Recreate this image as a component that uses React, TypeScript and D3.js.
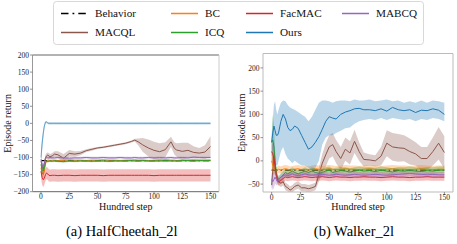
import * as d3 from 'd3';

// ---- data ----
const LX = [0, 1, 2, 3, 4, 5, 6, 7, 8, 10, 12, 15, 20, 25, 30, 35, 40, 45, 50, 55, 60, 65, 70, 75, 80, 83, 86, 90, 95, 100, 105, 110, 115, 118, 120, 125, 130, 135, 140, 145, 150];

const L_ours = [-100, -60, -30, -8, 3, 4, 1, 0, 0, 0, 0, 0, 0, 0, 0, 0, 0, 0, 0, 0, 0, 0, 0, 0, 0, 0, 0, 0, 0, 0, 0, 0, 0, 0, 0, 0, 0, 0, 0, 0, 0];
const L_ours_sd = [25, 20, 15, 8, 4, 3, 3, 3, 3, 3, 3, 3, 3, 3, 3, 3, 3, 3, 3, 3, 3, 3, 3, 3, 3, 3, 3, 3, 3, 3, 3, 3, 3, 3, 3, 3, 3, 3, 3, 3, 3];
const L_macql = [-110, -125, -135, -118, -100, -95, -93, -95, -98, -95, -90, -92, -102, -88, -90, -87, -80, -76, -72, -70, -67, -64, -61, -58, -53, -49, -54, -63, -72, -79, -83, -77, -54, -73, -78, -82, -79, -85, -87, -84, -68];
const L_macql_sd = [8, 10, 10, 8, 8, 8, 8, 8, 8, 8, 8, 10, 12, 10, 8, 6, 4, 4, 3, 3, 3, 3, 3, 3, 3, 4, 10, 20, 25, 25, 25, 22, 15, 18, 20, 25, 22, 18, 15, 20, 30];
const L_bc = [-130, -145, -150, -140, -118, -110, -108, -108, -109, -108, -108, -109, -108, -107, -108, -108, -109, -108, -108, -107, -108, -108, -109, -108, -108, -107, -108, -108, -109, -108, -108, -107, -108, -108, -109, -108, -108, -107, -108, -108, -108];
const L_bc_sd = [10, 10, 10, 8, 5, 3, 3, 3, 3, 3, 3, 3, 3, 3, 3, 3, 3, 3, 3, 3, 3, 3, 3, 3, 3, 3, 3, 3, 3, 3, 3, 3, 3, 3, 3, 3, 3, 3, 3, 3, 3];
const L_icq = [-120, -135, -140, -130, -115, -110, -112, -111, -110, -111, -110, -111, -112, -110, -111, -110, -110, -111, -110, -110, -111, -110, -110, -110, -109, -110, -110, -109, -110, -110, -110, -109, -110, -110, -110, -109, -109, -110, -109, -109, -109];
const L_icq_sd = [8, 10, 10, 8, 5, 3, 3, 3, 3, 3, 3, 3, 3, 3, 3, 3, 3, 3, 3, 3, 3, 3, 3, 3, 3, 3, 3, 3, 3, 3, 3, 3, 3, 3, 3, 3, 3, 3, 3, 3, 3];
const L_facmac = [-140, -158, -165, -160, -150, -145, -148, -152, -153, -152, -152, -153, -152, -152, -153, -152, -152, -152, -152, -153, -152, -152, -152, -152, -152, -152, -152, -152, -152, -153, -152, -152, -152, -152, -152, -152, -152, -152, -152, -152, -152];
const L_facmac_sd = [20, 22, 22, 20, 18, 18, 18, 18, 18, 18, 18, 18, 18, 18, 18, 18, 18, 18, 18, 18, 18, 18, 18, 18, 18, 18, 18, 18, 18, 18, 18, 18, 18, 18, 18, 18, 18, 18, 18, 18, 18];
const L_mabcq = [-105, -120, -128, -115, -103, -100, -101, -101, -100, -101, -101, -100, -101, -102, -101, -101, -100, -101, -101, -100, -101, -101, -100, -101, -101, -100, -101, -101, -100, -101, -100, -101, -100, -101, -101, -100, -101, -99, -100, -100, -100];
const L_mabcq_sd = [8, 8, 8, 5, 3, 3, 3, 3, 3, 3, 3, 3, 3, 3, 3, 3, 3, 3, 3, 3, 3, 3, 3, 3, 3, 3, 3, 3, 3, 3, 3, 3, 3, 3, 3, 3, 3, 3, 3, 3, 3];
const BEH_X = [0, 150];
const L_beh = [-109, -109];

const RX = [0, 1, 2, 3, 4, 5, 6, 8, 10, 12, 14, 16, 18, 20, 23, 26, 29, 32, 35, 38, 41, 44, 47, 50, 53, 56, 60, 64, 68, 72, 76, 80, 85, 90, 95, 100, 105, 110, 115, 120, 125, 130, 135, 140, 145, 150];

const R_ours = [40, 60, 75, 65, 55, 55, 60, 85, 100, 90, 72, 65, 68, 75, 70, 55, 40, 25, 30, 40, 52, 68, 85, 95, 92, 90, 100, 105, 108, 112, 113, 110, 110, 108, 112, 107, 115, 110, 108, 110, 104, 109, 108, 112, 109, 100];
const R_ours_lo = [10, 20, 30, 5, -10, -10, 0, 20, 30, 15, 5, 0, -5, 0, -5, -10, -10, -15, -20, -15, 0, 35, 50, 55, 55, 60, 65, 70, 72, 80, 85, 88, 90, 88, 92, 88, 92, 90, 88, 90, 85, 90, 88, 92, 90, 85];
const R_ours_hi = [50, 90, 120, 128, 110, 100, 110, 125, 130, 128, 120, 115, 112, 110, 105, 100, 95, 85, 95, 110, 125, 130, 130, 128, 125, 128, 130, 130, 128, 132, 130, 130, 132, 128, 130, 132, 128, 130, 125, 128, 125, 130, 125, 130, 128, 125];
const R_macql = [-52, -20, 10, -10, -30, -40, -45, -48, -45, -55, -58, -63, -60, -55, -52, -58, -58, -60, -58, -55, -30, -5, 13, 30, 35, 20, 5, 25, 17, 42, 20, 3, 2, 0, 10, 38, 30, 28, 27, 20, 15, 5, 5, 20, 38, 18];
const R_macql_sd = [10, 30, 35, 20, 10, 8, 8, 8, 8, 8, 8, 8, 8, 8, 8, 8, 8, 8, 8, 8, 15, 20, 25, 25, 25, 25, 25, 25, 25, 25, 20, 15, 12, 12, 20, 28, 30, 30, 28, 28, 25, 25, 25, 30, 35, 35];
const R_icq = [40, 45, 30, 0, -25, -35, -40, -35, -30, -25, -28, -25, -22, -25, -28, -25, -22, -25, -22, -25, -27, -25, -22, -20, -25, -23, -21, -22, -24, -22, -20, -22, -21, -23, -20, -22, -24, -21, -22, -20, -22, -23, -21, -22, -20, -20];
const R_icq_sd = [15, 55, 50, 25, 12, 8, 8, 8, 8, 8, 8, 8, 8, 8, 8, 8, 8, 8, 8, 8, 8, 8, 8, 8, 8, 8, 8, 8, 8, 8, 8, 8, 8, 8, 8, 8, 8, 8, 8, 8, 8, 8, 8, 8, 8, 8];
const R_bc = [0, -10, -15, -20, -22, -20, -18, -20, -18, -17, -18, -20, -19, -18, -17, -19, -18, -20, -18, -17, -18, -19, -18, -17, -18, -19, -18, -17, -18, -18, -19, -18, -17, -18, -19, -18, -17, -18, -18, -19, -18, -17, -18, -19, -18, -18];
const R_bc_sd = [20, 18, 15, 10, 8, 8, 8, 8, 8, 8, 8, 8, 8, 8, 8, 8, 8, 8, 8, 8, 8, 8, 8, 8, 8, 8, 8, 8, 8, 8, 8, 8, 8, 8, 8, 8, 8, 8, 8, 8, 8, 8, 8, 8, 8, 8];
const R_facmac = [20, 15, 5, -10, -30, -40, -45, -42, -38, -35, -36, -35, -34, -35, -36, -35, -34, -35, -36, -35, -35, -34, -35, -36, -35, -34, -35, -35, -36, -35, -35, -34, -35, -35, -36, -35, -34, -35, -35, -36, -35, -35, -34, -35, -35, -35];
const R_facmac_sd = [20, 20, 18, 15, 10, 8, 8, 8, 8, 8, 8, 8, 8, 8, 8, 8, 8, 8, 8, 8, 8, 8, 8, 8, 8, 8, 8, 8, 8, 8, 8, 8, 8, 8, 8, 8, 8, 8, 8, 8, 8, 8, 8, 8, 8, 8];
const R_mabcq = [-40, -45, -40, -35, -40, -45, -40, -35, -32, -30, -32, -30, -28, -30, -32, -30, -28, -30, -31, -30, -30, -29, -30, -31, -30, -29, -30, -31, -30, -29, -30, -31, -30, -29, -30, -31, -30, -29, -28, -27, -28, -29, -30, -29, -30, -30];
const R_mabcq_sd = [15, 18, 18, 15, 12, 8, 6, 6, 6, 6, 6, 6, 6, 6, 6, 6, 6, 6, 6, 6, 6, 6, 6, 6, 6, 6, 6, 6, 6, 6, 6, 6, 6, 6, 6, 6, 6, 6, 6, 6, 6, 6, 6, 6, 6, 6];
const R_beh = [-20, -20];

const X_TICKS = [0, 25, 50, 75, 100, 125, 150];
const L_Y_TICKS = [-200, -150, -100, -50, 0, 50, 100, 150, 200];
const R_Y_TICKS = [-50, 0, 50, 100, 150, 200];

const COLORS: Record<string, string> = {
    Behavior: '#000000',
    BC: '#ff7f0e',
    FacMAC: '#d62728',
    MABCQ: '#9467bd',
    MACQL: '#8c564b',
    ICQ: '#2ca02c',
    Ours: '#1f77b4',
};

// legend is column-major with 4 columns
const LEGEND_ROWS = [
    ['Behavior', 'BC', 'FacMAC', 'MABCQ'],
    ['MACQL', 'ICQ', 'Ours'],
];

const FONT = "'Liberation Serif', 'Times New Roman', Times, 'Nimbus Roman', 'DejaVu Serif', serif";

interface Series {
    name: string;
    x: number[];
    y: number[];
    lo?: number[];
    hi?: number[];
    dash?: string;
    lineOpacity?: number;
}

function band(y: number[], sd: number[], sign: number) {
    return y.map((v, i) => v + sign * sd[i]);
}

const leftSeries: Series[] = [
    { name: 'Behavior', x: BEH_X, y: L_beh, dash: '6,3,1.5,3' },
    { name: 'MACQL', x: LX, y: L_macql, lo: band(L_macql, L_macql_sd, -1), hi: band(L_macql, L_macql_sd, 1) },
    { name: 'BC', x: LX, y: L_bc, lo: band(L_bc, L_bc_sd, -1), hi: band(L_bc, L_bc_sd, 1) },
    { name: 'ICQ', x: LX, y: L_icq, lo: band(L_icq, L_icq_sd, -1), hi: band(L_icq, L_icq_sd, 1) },
    { name: 'FacMAC', x: LX, y: L_facmac, lo: band(L_facmac, L_facmac_sd, -1), hi: band(L_facmac, L_facmac_sd, 1) },
    { name: 'Ours', x: LX, y: L_ours, lo: band(L_ours, L_ours_sd, -1), hi: band(L_ours, L_ours_sd, 1), lineOpacity: 0.55 },
    { name: 'MABCQ', x: LX, y: L_mabcq, lo: band(L_mabcq, L_mabcq_sd, -1), hi: band(L_mabcq, L_mabcq_sd, 1) },
];

const rightSeries: Series[] = [
    { name: 'Behavior', x: BEH_X, y: R_beh, dash: '6,3,1.5,3' },
    { name: 'MACQL', x: RX, y: R_macql, lo: band(R_macql, R_macql_sd, -1), hi: band(R_macql, R_macql_sd, 1) },
    { name: 'BC', x: RX, y: R_bc, lo: band(R_bc, R_bc_sd, -1), hi: band(R_bc, R_bc_sd, 1) },
    { name: 'ICQ', x: RX, y: R_icq, lo: band(R_icq, R_icq_sd, -1), hi: band(R_icq, R_icq_sd, 1) },
    { name: 'FacMAC', x: RX, y: R_facmac, lo: band(R_facmac, R_facmac_sd, -1), hi: band(R_facmac, R_facmac_sd, 1) },
    { name: 'Ours', x: RX, y: R_ours, lo: R_ours_lo, hi: R_ours_hi },
    { name: 'MABCQ', x: RX, y: R_mabcq, lo: band(R_mabcq, R_mabcq_sd, -1), hi: band(R_mabcq, R_mabcq_sd, 1) },
];

interface PanelProps {
    left: number;
    right: number;
    top: number;
    bottom: number;
    yDomain: [number, number];
    yTicks: number[];
    series: Series[];
    caption: string;
    yLabelX: number;
    spines: { top: string; bottom: string; left: string; right: string };
}

function Panel({ left, right, top, bottom, yDomain, yTicks, series, caption, yLabelX, spines }: PanelProps) {
    const x = d3.scaleLinear().domain([-7.5, 157.5]).range([left, right]);
    const y = d3.scaleLinear().domain(yDomain).range([bottom, top]);
    const cx = (left + right) / 2;
    const fmt = (v: number) => (v < 0 ? '\u2212' + Math.abs(v) : String(v));
    const clipId = `clip-${Math.round(left)}`;

    return (
        <g>
            <defs>
                <clipPath id={clipId}>
                    <rect x={left} y={top} width={right - left} height={bottom - top} />
                </clipPath>
            </defs>
            <g clipPath={`url(#${clipId})`}>
                {series.map(s => {
                    const pts = s.x.map((xv, i) => i);
                    const line = d3.line<number>().x(i => x(s.x[i])).y(i => y(s.y[i]));
                    const area = d3.area<number>().x(i => x(s.x[i])).y0(i => y(s.lo ? s.lo[i] : 0)).y1(i => y(s.hi ? s.hi[i] : 0));
                    return (
                        <g key={s.name}>
                            <path d={line(pts) || ''} fill="none" stroke={COLORS[s.name]} strokeWidth={s.dash ? 1.2 : 1}
                                strokeDasharray={s.dash} strokeOpacity={s.lineOpacity ?? 1} />
                            {s.lo && <path d={area(pts) || ''} fill={COLORS[s.name]} fillOpacity={0.3} stroke="none" />}
                        </g>
                    );
                })}
            </g>
            {/* spines */}
            <line x1={left} x2={right} y1={top} y2={top} stroke={spines.top} strokeWidth={1} />
            <line x1={left} x2={right} y1={bottom} y2={bottom} stroke={spines.bottom} strokeWidth={1} />
            <line x1={left} x2={left} y1={top} y2={bottom} stroke={spines.left} strokeWidth={1} />
            <line x1={right} x2={right} y1={top} y2={bottom} stroke={spines.right} strokeWidth={1} />
            {/* x ticks */}
            {X_TICKS.map(t => (
                <g key={'x' + t}>
                    <line x1={x(t)} x2={x(t)} y1={bottom} y2={bottom + 2.5} stroke="#777" strokeWidth={0.8} />
                    <text x={x(t)} y={bottom + 7.6} textAnchor="middle" fontSize={7.5} style={{ fontFamily: FONT }} fill="#222">{fmt(t)}</text>
                </g>
            ))}
            {/* y ticks */}
            {yTicks.map(t => (
                <g key={'y' + t}>
                    <line x1={left - 2.5} x2={left} y1={y(t)} y2={y(t)} stroke="#777" strokeWidth={0.8} />
                    <text x={left - 3.5} y={y(t) + 2.6} textAnchor="end" fontSize={7.5} style={{ fontFamily: FONT }} fill="#222">{fmt(t)}</text>
                </g>
            ))}
            <text x={cx} y={210} textAnchor="middle" fontSize={10} style={{ fontFamily: FONT }} fill="#111">Hundred step</text>
            <text transform={`translate(${yLabelX},${(top + bottom) / 2}) rotate(-90)`} textAnchor="middle"
                fontSize={10} style={{ fontFamily: FONT }} fill="#111">Episode return</text>
            <text x={cx - 4} y={235.5} textAnchor="middle" fontSize={14.5} style={{ fontFamily: FONT }} fill="#000">{caption}</text>
        </g>
    );
}

function Legend() {
    const colX = [61, 171, 246, 342];
    const rowY = [13.5, 32.5];
    return (
        <g>
            <rect x={53.5} y={1.5} width={370} height={43} rx={3} fill="#fff" stroke="#d8d8d8" strokeWidth={1} />
            {LEGEND_ROWS.map((row, r) => row.map((name, c) => (
                <g key={name}>
                    <line x1={colX[c]} x2={colX[c] + 27} y1={rowY[r]} y2={rowY[r]} stroke={COLORS[name]}
                        strokeWidth={1.5} strokeDasharray={name === 'Behavior' ? '7.5,4,1.8,4' : undefined} />
                    <text x={colX[c] + 34} y={rowY[r] + 3.8} fontSize={11.2} style={{ fontFamily: FONT }} fill="#111">{name}</text>
                </g>
            )))}
        </g>
    );
}

export default function App() {
    return (
        <div style={{ position: 'fixed', left: 0, top: 0 }}>
            <svg width={457} height={244} style={{ display: 'block', background: '#fff' }}>
                <Panel left={32.5} right={219} top={55} bottom={191.7} yDomain={[-200, 200]} yTicks={L_Y_TICKS}
                    series={leftSeries} caption="(a) HalfCheetah_2l" yLabelX={10.5}
                    spines={{ top: '#666', bottom: '#666', left: '#999', right: '#ccc' }} />
                <Panel left={263} right={453} top={53.5} bottom={192} yDomain={[-67, 231]} yTicks={R_Y_TICKS}
                    series={rightSeries} caption="(b) Walker_2l" yLabelX={244.5}
                    spines={{ top: '#bbb', bottom: '#bbb', left: '#bbb', right: '#bbb' }} />
                <Legend />
            </svg>
        </div>
    );
}
